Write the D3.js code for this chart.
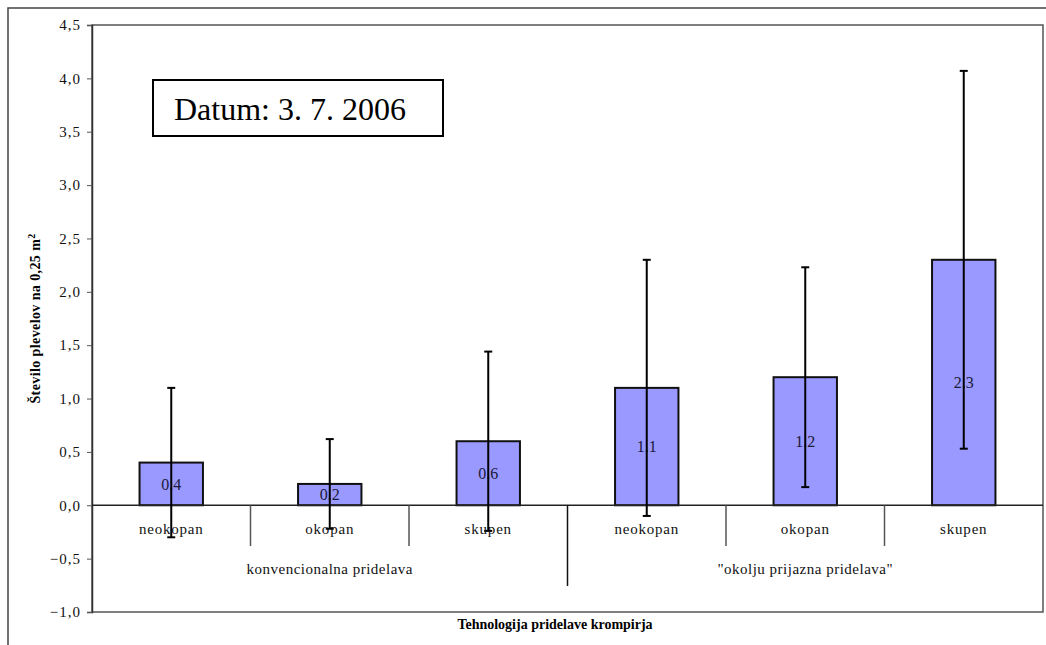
<!DOCTYPE html>
<html>
<head>
<meta charset="utf-8">
<script src="https://cdn.jsdelivr.net/npm/d3@7"></script>
<style>
  body { margin: 0; background: #fff; }
  svg text { font-family: "Liberation Serif", "Times New Roman", serif; }
</style>
</head>
<body>
<div id="chart"></div>
<script>
// Data
const categories = ["neokopan", "okopan", "skupen", "neokopan", "okopan", "skupen"];
const groups = ["konvencionalna pridelava", "\"okolju prijazna pridelava\""];
const groupOf = [0, 0, 0, 1, 1, 1];
const means = [0.4, 0.2, 0.6, 1.1, 1.2, 2.3];
const errors = [0.7, 0.42, 0.84, 1.2, 1.03, 1.77];
const yTicks = [-1.0, -0.5, 0.0, 0.5, 1.0, 1.5, 2.0, 2.5, 3.0, 3.5, 4.0, 4.5];
const dateLabel = "Datum: 3. 7. 2006";

const W = 1046, H = 645;
const plot = {left: 92, right: 1043, top: 25, bottom: 612};
const serif = "'Liberation Serif', 'Times New Roman', serif";

const svg = d3.select("#chart").append("svg")
  .attr("width", W).attr("height", H)
  .attr("font-family", serif);

// outer frame (only left and top visible)
svg.append("path")
  .attr("d", `M8,${H} L8,8 L${W},8`)
  .attr("fill", "none").attr("stroke", "#444").attr("stroke-width", 1.5);

const idx = d3.range(categories.length);

const x = d3.scaleBand()
  .domain(idx)
  .range([plot.left, plot.right])
  .paddingInner(0.6)
  .paddingOuter(0.3);

const cell = d3.scaleBand()
  .domain(idx)
  .range([plot.left, plot.right]);

const y = d3.scaleLinear()
  .domain([-1, 4.5])
  .range([plot.bottom, plot.top]);

const commaFmt = d3.formatLocale({decimal: ",", thousands: ".", grouping: [3], currency: ["", ""]}).format(".1f");

// plot frame
svg.append("rect")
  .attr("x", plot.left).attr("y", plot.top)
  .attr("width", plot.right - plot.left).attr("height", plot.bottom - plot.top)
  .attr("fill", "none").attr("stroke", "#555").attr("stroke-width", 1.5);

// y axis
const yAxis = svg.append("g")
  .attr("transform", `translate(${plot.left},0)`)
  .call(d3.axisLeft(y).tickValues(yTicks).tickFormat(commaFmt).tickSize(5).tickPadding(6));
yAxis.attr("font-family", serif);
yAxis.select(".domain").attr("stroke", "#333").attr("stroke-width", 1.5);
yAxis.selectAll(".tick line").attr("stroke", "#555");
yAxis.selectAll("text")
  .attr("font-size", 15).attr("fill", "#111")
  .style("letter-spacing", "1px");

// bars
svg.selectAll("rect.bar")
  .data(idx)
  .join("rect").classed("bar", true)
  .attr("x", i => x(i))
  .attr("width", x.bandwidth())
  .attr("y", i => y(Math.max(0, means[i])))
  .attr("height", i => Math.abs(y(means[i]) - y(0)))
  .attr("fill", "#9999FF")
  .attr("stroke", "#111")
  .attr("stroke-width", 2);

// zero line
svg.append("line")
  .attr("x1", plot.left).attr("x2", plot.right)
  .attr("y1", y(0)).attr("y2", y(0))
  .attr("stroke", "#222").attr("stroke-width", 1.5);

// value labels
svg.selectAll("text.val")
  .data(idx)
  .join("text").classed("val", true)
  .attr("x", i => x(i) + x.bandwidth() / 2)
  .attr("y", i => y(means[i] / 2))
  .attr("dy", "0.35em")
  .attr("text-anchor", "middle")
  .attr("font-size", 16)
  .attr("fill", "#1a1a3a")
  .text(i => d3.format(".1f")(means[i]));

// error bars
const eb = svg.selectAll("g.err")
  .data(idx)
  .join("g").classed("err", true)
  .attr("transform", i => `translate(${x(i) + x.bandwidth() / 2},0)`);
eb.append("line")
  .attr("y1", i => y(means[i] + errors[i]))
  .attr("y2", i => y(means[i] - errors[i]))
  .attr("stroke", "#000").attr("stroke-width", 2);
eb.append("line")
  .attr("x1", -4).attr("x2", 4)
  .attr("y1", i => y(means[i] + errors[i]))
  .attr("y2", i => y(means[i] + errors[i]))
  .attr("stroke", "#000").attr("stroke-width", 2);
eb.append("line")
  .attr("x1", -4).attr("x2", 4)
  .attr("y1", i => y(means[i] - errors[i]))
  .attr("y2", i => y(means[i] - errors[i]))
  .attr("stroke", "#000").attr("stroke-width", 2);

// category separators
const sep = d3.range(1, categories.length);
svg.selectAll("line.sep")
  .data(sep)
  .join("line").classed("sep", true)
  .attr("x1", i => cell(i)).attr("x2", i => cell(i))
  .attr("y1", y(0))
  .attr("y2", i => groupOf[i] !== groupOf[i - 1] ? 586 : 546)
  .attr("stroke", i => groupOf[i] !== groupOf[i - 1] ? "#111" : "#555")
  .attr("stroke-width", 1.5);

// category labels
svg.selectAll("text.cat")
  .data(idx)
  .join("text").classed("cat", true)
  .attr("x", i => cell(i) + cell.bandwidth() / 2)
  .attr("y", 534)
  .attr("text-anchor", "middle")
  .attr("font-size", 15)
  .attr("fill", "#111")
  .style("letter-spacing", "0.8px")
  .text(i => categories[i]);

// group labels
svg.selectAll("text.grp")
  .data(groups)
  .join("text").classed("grp", true)
  .attr("x", (g, gi) => {
    const members = idx.filter(i => groupOf[i] === gi);
    return (cell(members[0]) + cell(members[members.length - 1]) + cell.bandwidth()) / 2;
  })
  .attr("y", 574)
  .attr("text-anchor", "middle")
  .attr("font-size", 15)
  .attr("fill", "#111")
  .style("letter-spacing", "0.5px")
  .text(g => g);

// axis titles
svg.append("text")
  .attr("x", 555).attr("y", 629)
  .attr("text-anchor", "middle")
  .attr("font-size", 14).attr("font-weight", "bold")
  .attr("fill", "#000")
  .text("Tehnologija pridelave krompirja");

const yt = svg.append("text")
  .attr("transform", `translate(40,${(plot.top + plot.bottom) / 2}) rotate(-90)`)
  .attr("text-anchor", "middle")
  .attr("font-size", 14).attr("font-weight", "bold")
  .attr("fill", "#000")
  .style("letter-spacing", "0.4px");
yt.append("tspan").text("Število plevelov na  0,25 m");
yt.append("tspan").attr("dy", -5).attr("font-size", 10).text("2");

// date box
svg.append("rect")
  .attr("x", 153).attr("y", 80).attr("width", 290).attr("height", 56)
  .attr("fill", "#fff").attr("stroke", "#000").attr("stroke-width", 2);
svg.append("text")
  .attr("x", 174).attr("y", 120)
  .attr("font-size", 32).attr("fill", "#000")
  .text(dateLabel);
</script>
</body>
</html>
